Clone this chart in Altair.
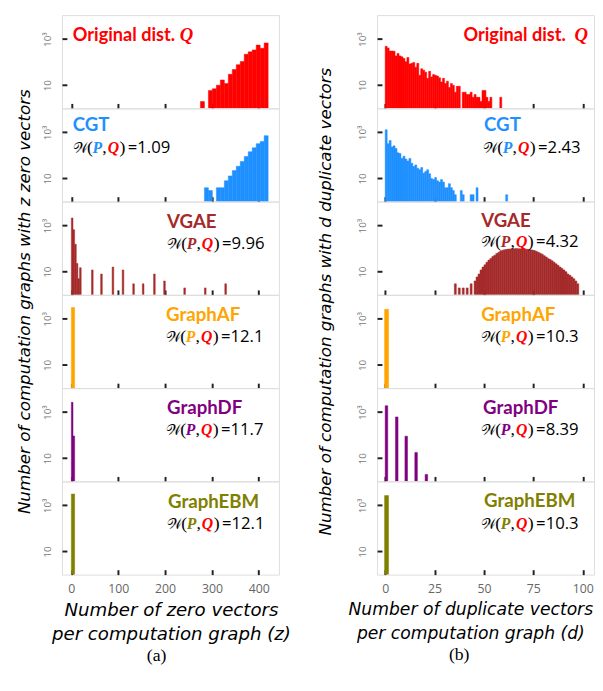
import altair as alt
import pandas as pd

# ---------------- (a) number of zero vectors per computation graph ----------------
Z_TICKS = [0, 100, 200, 300, 400]
Z_DOMAIN = [-20, 443]

Z_ORIG_START = [275.5, 292.5, 301, 309.5, 318, 326.5, 335, 343.5, 352, 360.5, 369, 377.5, 386, 394.5, 403, 411.5]
Z_ORIG_N = [2, 6, 7, 10, 17, 12, 30, 48, 78, 108, 220, 280, 340, 550, 400, 680]

Z_CGT_START = [284, 292.5, 309.5, 318, 326.5, 335, 343.5, 352, 360.5, 369, 377.5, 386, 394.5, 403, 411.5]
Z_CGT_N = [4, 3, 4, 4, 8, 13, 22, 34, 55, 90, 145, 215, 325, 405, 720]

Z_VGAE_START = [0, 3.5, 7, 10.5, 14, 17.5, 43, 62.5, 87, 108.5, 131, 151.5, 175.5, 197, 240, 284, 327.5]
Z_VGAE_N = [2150, 660, 157, 23, 5, 15, 12, 8, 16, 12, 3, 3, 8, 4, 2, 2, 3]

Z_AF_START = [0]
Z_AF_N = [3100]
Z_DF_START = [0, 3.5]
Z_DF_N = [2650, 93]
Z_EBM_START = [0]
Z_EBM_N = [3100]

# ---------------- (b) number of duplicate vectors per computation graph ----------------
D_TICKS = [0, 25, 50, 75, 100]
D_DOMAIN = [-4.1, 105.7]

D_ORIG_START = [0, 1, 2, 3, 4, 5, 6, 7, 8, 9, 10, 11, 12, 13, 14, 15, 16, 17, 18, 19,
                20, 21, 22, 23, 24, 25, 26, 27, 28, 29, 30, 31, 32, 33, 34, 35, 36, 37,
                39, 40, 41, 42, 43, 44, 45, 46, 47, 48, 49, 50, 51, 52, 53, 58]
D_ORIG_N = [490, 415, 305, 305, 300, 187, 240, 187, 170, 145, 105, 160, 84, 90, 98, 61, 89, 27, 52, 45,
            37, 20, 40, 23, 29, 27, 25, 21, 14, 20, 12, 15, 8, 12, 10, 5, 9, 9,
            5, 5, 4, 4, 5, 3, 4, 3, 3, 2, 6, 6, 3, 2, 3, 3]

D_CGT_START = [0, 1, 2, 3, 4, 5, 6, 7, 8, 9, 10, 11, 12, 13, 14, 15, 16, 17, 18, 19,
               20, 21, 22, 23, 24, 25, 26, 27, 28, 29, 30, 31, 32, 33, 34, 35,
               38, 39, 43, 44, 46, 61]
D_CGT_N = [1290, 320, 445, 235, 260, 200, 130, 122, 74, 93, 70, 57, 74, 46, 33, 39, 28, 24, 30, 17,
           20, 24, 16, 10, 9, 11, 8, 7, 9, 7, 4, 4, 6, 4, 3, 2,
           3, 2, 2, 2, 4, 2]

D_VGAE_START = [35, 37, 39, 41, 43] + list(range(45, 98))
D_VGAE_N = [3, 2, 2, 2, 3,
            4, 6, 8, 12, 16, 20, 26, 32, 38, 46,
            52, 62, 70, 80, 86, 90, 94, 96, 98, 100,
            100, 101, 100, 99, 98, 97, 95, 93, 90, 87,
            83, 77, 70, 64, 57, 50, 44, 38, 34, 30,
            26, 22, 19, 16, 14, 12, 10, 8, 7, 6,
            5, 4, 3]

D_AF_START = [-0.3]
D_AF_N = [2600]
D_DF_START = [0, 5.2, 10, 15, 20.2]
D_DF_N = [1900, 620, 91, 18, 2]
D_EBM_START = [-0.3]
D_EBM_N = [2650]

# ---------------- labels ----------------
MODELS = ["CGT", "VGAE", "GraphAF", "GraphDF", "GraphEBM"]
COLORS = {"Original": "#FF0000", "CGT": "#1E90FF", "VGAE": "#A52A2A",
          "GraphAF": "#FFA500", "GraphDF": "#800080", "GraphEBM": "#808000"}
Z_W = ["1.09", "9.96", "12.1", "11.7", "12.1"]
D_W = ["2.43", "4.32", "10.3", "8.39", "10.3"]

PANEL_W = 221
PANEL_H = 95
Y_DOMAIN = [1, 11000]
ONE = pd.DataFrame({"k": [0]})

SANS = "Lato"
TITLE_FONT = "DejaVu Sans"
SERIF = "Liberation Serif"


def txt(text, x, y, color="black", font=SANS, size=17, style="normal", weight="normal", baseline="alphabetic"):
    return alt.Chart(ONE).mark_text(
        text=text, align="left", baseline=baseline, color=color, font=font,
        fontSize=size, fontStyle=style, fontWeight=weight
    ).encode(x=alt.value(x), y=alt.value(y))


def w_formula(x0, y0, pcolor, value):
    return [
        txt("\U0001D4B2", x0, y0, font=SERIF, size=15),
        txt("(", x0 + 14.5, y0, font=SERIF, size=18),
        txt("P", x0 + 20, y0, color=pcolor, font=SERIF, size=16, style="italic", weight="bold"),
        txt(",", x0 + 30, y0, font=SERIF, size=18),
        txt("Q", x0 + 35.5, y0, color=COLORS["Original"], font=SERIF, size=16, style="italic", weight="bold"),
        txt(")", x0 + 47.5, y0, font=SERIF, size=18),
        txt("=" + value, x0 + 56, y0, font="Open Sans", size=17),
    ]


def panel(starts, counts, binw, color, xdom, xticks, bottom, xtitle, tsize, tx, annots):
    df = pd.DataFrame({"x": starts, "n": counts})
    df["x2"] = df["x"] + binw
    xkw = dict(values=xticks, tickSize=5, offset=-5, domain=False, grid=False,
               tickColor="#222222", tickWidth=2, labels=bottom, minExtent=0)
    if bottom:
        xkw.update(title=xtitle, labelColor="#666666", labelFont="Open Sans", labelFontSize=12.5,
                   labelPadding=8, titleFont=TITLE_FONT, titleFontStyle="italic", titleFontWeight="normal",
                   titleFontSize=tsize, titleColor="black", titlePadding=6, titleLineHeight=25,
                   titleX=tx, titleAlign="center")
    else:
        xkw.update(title=None, labelPadding=0)
    yaxis = alt.Axis(values=[10, 1000], labelExpr="datum.value >= 1000 ? '10\u00b3' : '10'",
                     labelAngle=270, labelAlign="center", labelBaseline="bottom",
                     tickSize=5, offset=-5, domain=False, grid=False, title=None, minExtent=0,
                     tickColor="#222222", tickWidth=2, labelColor="#777777", labelFont="Open Sans",
                     labelFontSize=10, labelPadding=10)
    bars = alt.Chart(df).mark_rect(color=color, stroke=color, strokeWidth=0.5, clip=True).encode(
        x=alt.X("x:Q", scale=alt.Scale(domain=xdom, nice=False, zero=False), axis=alt.Axis(**xkw)),
        x2="x2:Q",
        y=alt.Y("n:Q", scale=alt.Scale(type="log", domain=Y_DOMAIN, nice=False), axis=yaxis),
        y2=alt.datum(1),
    )
    return alt.layer(bars, *annots).properties(width=PANEL_W, height=PANEL_H)


def column(data, binws, xdom, xticks, xtitle, tsize, tx, wvals, orig_pos, name_pos, caption, cap_dx):
    panels = []
    s, n = data[0]
    ox, qx = orig_pos
    ann = [txt("Original dist.", ox, 26.3, color=COLORS["Original"], size=18.5, weight="bold"),
           txt("Q", qx, 26.3, color=COLORS["Original"], font=SERIF, size=19, style="italic", weight="bold")]
    panels.append(panel(s, n, binws[0], COLORS["Original"], xdom, xticks, False, xtitle, tsize, tx, ann))
    for i, m in enumerate(MODELS):
        s, n = data[i + 1]
        nx, wx, ny, wy = name_pos[i]
        ann = [txt(m, nx, ny, color=COLORS[m], size=19, weight="bold")] + \
            w_formula(wx, wy, COLORS[m], wvals[i])
        panels.append(panel(s, n, binws[i + 1], COLORS[m], xdom, xticks, i == 4, xtitle, tsize, tx, ann))
    return alt.vconcat(*panels, spacing=0, bounds="flush", title=alt.TitleParams(
        caption, orient="bottom", anchor="middle", font=SERIF, fontSize=18, fontWeight="normal",
        color="black", offset=4, dx=cap_dx))


def ytitle(text, w, tx):
    return alt.Chart(ONE).mark_text(
        text=text, angle=270, align="center", baseline="middle", font=TITLE_FONT, fontStyle="italic",
        fontWeight="normal", fontSize=17, color="black"
    ).encode(x=alt.value(tx), y=alt.value(292)).properties(
        width=w, height=570, view=alt.ViewBackground(stroke="transparent"))


left = column(
    [(Z_ORIG_START, Z_ORIG_N), (Z_CGT_START, Z_CGT_N), (Z_VGAE_START, Z_VGAE_N),
     (Z_AF_START, Z_AF_N), (Z_DF_START, Z_DF_N), (Z_EBM_START, Z_EBM_N)],
    [8.5, 8.5, 3.5, 7, 3.5, 7], Z_DOMAIN, Z_TICKS,
    ["Number of zero vectors", "per computation graph (z)"], 18.5, 111, Z_W,
    (11, 120),
    [(11, 11, 23.5, 45.3), (107, 107, 26.8, 48.2), (106, 106, 26.8, 48.2),
     (107, 106, 26.8, 48.2), (108, 107, 26.8, 48.2)],
    "(a)", -10)

right = column(
    [(D_ORIG_START, D_ORIG_N), (D_CGT_START, D_CGT_N), (D_VGAE_START, D_VGAE_N),
     (D_AF_START, D_AF_N), (D_DF_START, D_DF_N), (D_EBM_START, D_EBM_N)],
    [1, 1, 1, 2, 1.3, 2], D_DOMAIN, D_TICKS,
    ["Number of duplicate vectors", "per computation graph (d)"], 17.5, 95, D_W,
    (88, 201),
    [(109, 108, 23.5, 45.3), (106, 106, 26.2, 46.5), (106, 106, 26.5, 48.2),
     (108, 106, 26.2, 48), (109, 106, 26.5, 48.2)],
    "(b)", -12)

chart = alt.hconcat(
    ytitle("Number of computation graphs with z zero vectors", 32, 16), left,
    ytitle("Number of computation graphs with d duplicate vectors", 54, 34), right,
    spacing=0
).properties(padding=0).configure_view(stroke="#555555", strokeWidth=1.5).configure(background="white")

chart.save("out.html", embed_options={"renderer": "svg", "actions": False})
